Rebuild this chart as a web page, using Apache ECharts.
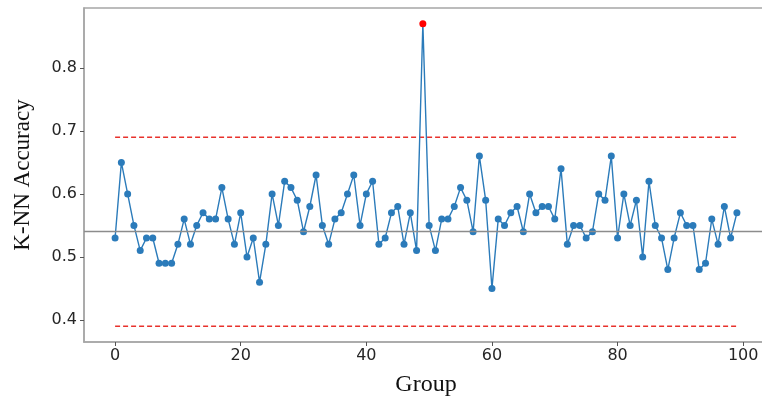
<!DOCTYPE html>
<html>
<head>
<meta charset="utf-8">
<script src="https://cdn.jsdelivr.net/npm/echarts@6/dist/echarts.min.js"></script>
<style>
  html, body { margin: 0; padding: 0; background: #fff; overflow: hidden; }
  /* el lienzo es algo más ancho que la ventana: el borde derecho del marco queda fuera, como en el original */
  #chart { width: 770px; height: 398px; }
</style>
</head>
<body>
<div id="chart"></div>
<script>
// Datos: precisión K-NN por grupo (0..99)
const groups = Array.from({ length: 100 }, (_, i) => i);
const accuracy = [
  0.53, 0.65, 0.60, 0.55, 0.51, 0.53, 0.53, 0.49, 0.49, 0.49,
  0.52, 0.56, 0.52, 0.55, 0.57, 0.56, 0.56, 0.61, 0.56, 0.52,
  0.57, 0.50, 0.53, 0.46, 0.52, 0.60, 0.55, 0.62, 0.61, 0.59,
  0.54, 0.58, 0.63, 0.55, 0.52, 0.56, 0.57, 0.60, 0.63, 0.55,
  0.60, 0.62, 0.52, 0.53, 0.57, 0.58, 0.52, 0.57, 0.51, 0.87,
  0.55, 0.51, 0.56, 0.56, 0.58, 0.61, 0.59, 0.54, 0.66, 0.59,
  0.45, 0.56, 0.55, 0.57, 0.58, 0.54, 0.60, 0.57, 0.58, 0.58,
  0.56, 0.64, 0.52, 0.55, 0.55, 0.53, 0.54, 0.60, 0.59, 0.66,
  0.53, 0.60, 0.55, 0.59, 0.50, 0.62, 0.55, 0.53, 0.48, 0.53,
  0.57, 0.55, 0.55, 0.48, 0.49, 0.56, 0.52, 0.58, 0.53, 0.57
];
const meanLine = 0.54;
const upperBound = 0.69;
const lowerBound = 0.39;
const xTicks = [0, 20, 40, 60, 80, 100];
const yTicks = [0.4, 0.5, 0.6, 0.7, 0.8];

const chart = echarts.init(document.getElementById('chart'), null, { renderer: 'canvas' });

// El punto máximo se marca en rojo
const peakIndex = accuracy.indexOf(Math.max(...accuracy));
const lineData = groups.map((g, i) => {
  const item = { value: [g, accuracy[i]] };
  if (i === peakIndex) item.itemStyle = { color: '#ff0000' };
  return item;
});

const firstGroup = groups[0];
const lastGroup = groups[groups.length - 1];

const frameColor = '#a6a6a6';
const tickFont = { fontFamily: 'DejaVu Sans', fontSize: 16, color: '#262626' };
const titleFont = { fontFamily: 'Liberation Serif', color: '#111' };

const xMin = -4.95;
const xMax = 103.95;

chart.setOption({
  animation: false,
  backgroundColor: '#fff',
  grid: {
    left: 84, top: 8, right: 2, bottom: 56,
    outerBoundsMode: 'none',
    containLabel: false,
    show: true, borderColor: frameColor, borderWidth: 1.5
  },
  xAxis: {
    type: 'value',
    min: xMin, max: xMax,
    name: 'Group',
    nameLocation: 'middle',
    nameGap: 31,
    nameTextStyle: { ...titleFont, fontSize: 24 },
    axisLine: { show: true, onZero: false, lineStyle: { color: frameColor, width: 1.5 } },
    axisTick: { show: true, customValues: xTicks, length: 4, lineStyle: { color: '#555' } },
    axisLabel: { customValues: xTicks, margin: 6, ...tickFont },
    splitLine: { show: false }
  },
  yAxis: {
    type: 'value',
    min: 0.365, max: 0.895,
    name: 'K-NN Accuracy',
    nameLocation: 'middle',
    nameGap: 50,
    nameTextStyle: { ...titleFont, fontSize: 23 },
    axisLine: { show: true, onZero: false, lineStyle: { color: frameColor, width: 1.5 } },
    axisTick: { show: true, customValues: yTicks, length: 4, lineStyle: { color: '#555' } },
    axisLabel: {
      customValues: yTicks, margin: 7,
      formatter: v => v.toFixed(1),
      ...tickFont
    },
    splitLine: { show: false }
  },
  series: [
    {
      name: 'accuracy',
      type: 'line',
      data: lineData,
      symbol: 'circle',
      symbolSize: 7,
      showAllSymbol: true,
      lineStyle: { color: '#2b7bba', width: 1.4 },
      itemStyle: { color: '#2b7bba' },
      z: 3,
      markLine: {
        silent: true,
        symbol: 'none',
        label: { show: false },
        lineStyle: { color: '#8c8c8c', type: 'solid', width: 1.3 },
        data: [{ yAxis: meanLine }]
      }
    },
    {
      name: 'upper',
      type: 'line',
      data: [[firstGroup, upperBound], [lastGroup, upperBound]],
      symbol: 'none',
      lineStyle: { color: '#e8322c', width: 1.4, type: [5, 3] },
      z: 2
    },
    {
      name: 'lower',
      type: 'line',
      data: [[firstGroup, lowerBound], [lastGroup, lowerBound]],
      symbol: 'none',
      lineStyle: { color: '#e8322c', width: 1.4, type: [5, 3] },
      z: 2
    }
  ]
});
</script>
</body>
</html>
